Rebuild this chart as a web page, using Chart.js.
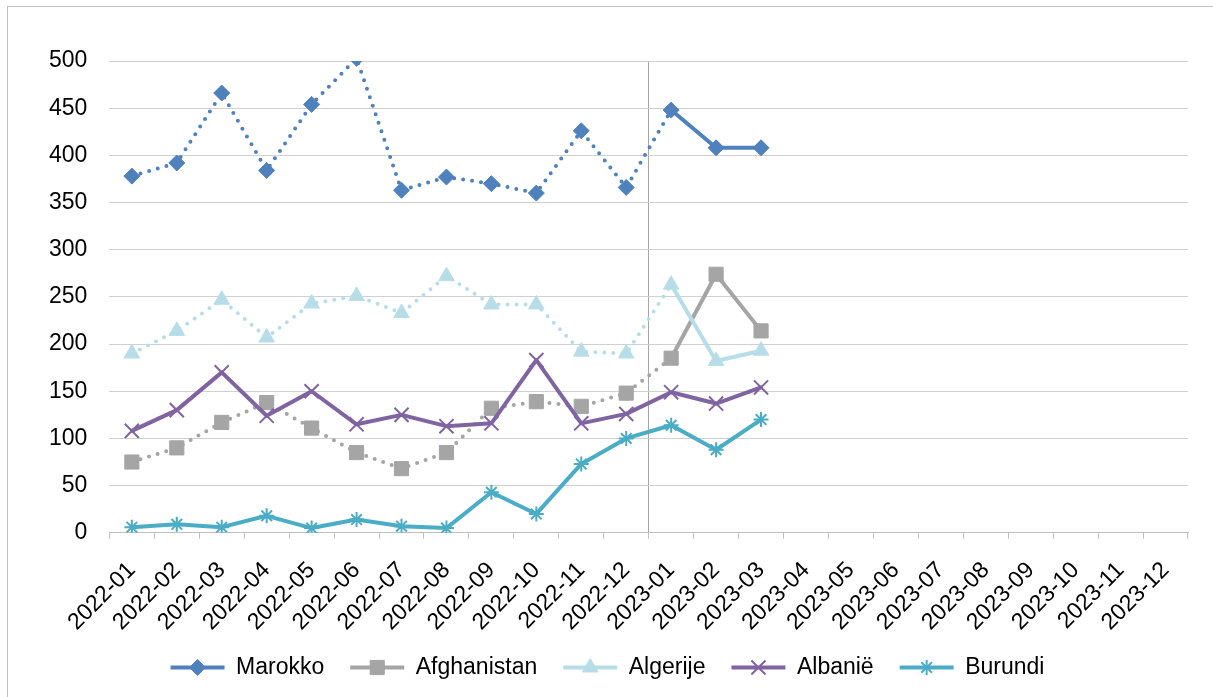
<!DOCTYPE html>
<html>
<head>
<meta charset="utf-8">
<script src="https://cdn.jsdelivr.net/npm/chart.js@4/dist/chart.umd.min.js"></script>
<style>
  body { margin: 0; background: #fff; }
  #wrap { position: relative; width: 1213px; height: 697px; }
  #frame { position: absolute; left: 7px; top: 6px; width: 1215px; height: 700px; border: 1px solid #bfbfbf; pointer-events: none; }
</style>
</head>
<body>
<div id="wrap">
  <canvas id="chart" width="1213" height="697"></canvas>
  <div id="frame"></div>
</div>
<script>
const months = [
  "2022-01", "2022-02", "2022-03", "2022-04", "2022-05", "2022-06",
  "2022-07", "2022-08", "2022-09", "2022-10", "2022-11", "2022-12",
  "2023-01", "2023-02", "2023-03", "2023-04", "2023-05", "2023-06",
  "2023-07", "2023-08", "2023-09", "2023-10", "2023-11", "2023-12"
];

const marokko     = [378, 392, 466, 384, 454, 503, 363, 377, 370, 360, 426, 366, 448, 408, 408, null, null, null, null, null, null, null, null, null];
const afghanistan = [75, 90, 117, 138, 111, 85, 68, 85, 132, 139, 134, 148, 185, 274, 214, null, null, null, null, null, null, null, null, null];
const algerije    = [190, 214, 247, 207, 243, 251, 233, 272, 242, 242, 192, 190, 263, 182, 193, null, null, null, null, null, null, null, null, null];
const albanie     = [108, 130, 170, 124, 150, 115, 125, 113, 116, 183, 116, 126, 149, 137, 154, null, null, null, null, null, null, null, null, null];
const burundi     = [6, 9, 6, 18, 5, 14, 7, 5, 43, 20, 73, 100, 114, 88, 120, null, null, null, null, null, null, null, null, null];

const yTicks = [0, 50, 100, 150, 200, 250, 300, 350, 400, 450, 500];

const FONT = "'Liberation Sans', Arial, sans-serif";
const firstSolid = months.indexOf("2023-01"); // segments up to this point are dotted for some series

function series(label, data, color, style, radius, dotted, order) {
  const cross = style === "crossRot" || style === "star";
  return {
    label: label,
    data: data,
    borderColor: color,
    backgroundColor: color,
    borderWidth: 4,
    borderCapStyle: "round",
    borderJoinStyle: "round",
    pointStyle: style,
    pointRadius: radius,
    pointHoverRadius: radius,
    pointBackgroundColor: color,
    pointBorderColor: color,
    pointBorderWidth: cross ? 2 : 1,
    spanGaps: false,
    order: order,
    segment: {
      borderDash: ctx => (dotted && ctx.p1DataIndex <= firstSolid) ? [0, 9] : undefined
    }
  };
}

// draws the marker on top of each legend line
const legendMarks = {
  id: "legendMarks",
  afterDraw(chart) {
    const lg = chart.legend;
    const bw = lg.options.labels.boxWidth;
    const ctx = chart.ctx;
    lg.legendItems.forEach((item, i) => {
      const hb = lg.legendHitBoxes[i];
      const ds = chart.data.datasets[item.datasetIndex];
      ctx.save();
      ctx.fillStyle = ds.pointBackgroundColor;
      ctx.strokeStyle = ds.pointBorderColor;
      ctx.lineWidth = ds.pointBorderWidth;
      Chart.helpers.drawPoint(ctx, {
        pointStyle: ds.pointStyle,
        radius: ds.pointRadius,
        borderWidth: ds.pointBorderWidth,
        rotation: 0
      }, hb.left + bw / 2, hb.top + hb.height / 2);
      ctx.restore();
    });
  }
};

const chart = new Chart(document.getElementById("chart"), {
  type: "line",
  data: {
    labels: months,
    datasets: [
      series("Marokko", marokko, "#4f81bd", "rectRot", 8, true, 5),
      series("Afghanistan", afghanistan, "#a5a5a5", "rect", 10, true, 4),
      series("Algerije", algerije, "#b7dee8", "triangle", 9, true, 3),
      series("Albanië", albanie, "#8064a2", "crossRot", 10, false, 2),
      series("Burundi", burundi, "#4bacc6", "star", 7.5, false, 1)
    ]
  },
  options: {
    responsive: false,
    animation: false,
    layout: { padding: { left: 27, right: 25, top: 61, bottom: 8 } },
    plugins: {
      tooltip: { enabled: false },
      legend: {
        position: "bottom",
        labels: {
          font: { family: FONT, size: 23 },
          color: "#000",
          boxWidth: 54,
          boxHeight: 4,
          padding: 26,
          sort: (a, b) => a.datasetIndex - b.datasetIndex,
          generateLabels: (c) => Chart.defaults.plugins.legend.labels.generateLabels(c).map(l => {
            l.lineWidth = 0;
            l.fillStyle = l.strokeStyle;
            l.lineDash = [];
            return l;
          })
        }
      }
    },
    scales: {
      x: {
        offset: true,
        afterFit: s => { s.paddingLeft = 0; s.height -= 24; },
        grid: {
          offset: true,
          color: ctx => ctx.index === firstSolid ? "#a6a6a6" : "rgba(0,0,0,0)",
          tickColor: "#bfbfbf",
          tickLength: 6,
          lineWidth: 1
        },
        border: { display: true, color: "#bfbfbf", width: 1 },
        ticks: {
          autoSkip: false,
          minRotation: 45,
          maxRotation: 45,
          padding: 18,
          color: "#000",
          font: { family: FONT, size: 23 }
        }
      },
      y: {
        min: 0,
        max: 500,
        afterBuildTicks: axis => { axis.ticks = yTicks.map(v => ({ value: v })); },
        grid: { color: "#d0d0d0", lineWidth: 1, drawTicks: false },
        border: { display: false },
        ticks: {
          padding: 22,
          color: "#000",
          font: { family: FONT, size: 23 }
        }
      }
    }
  },
  plugins: [legendMarks]
});
</script>
</body>
</html>
